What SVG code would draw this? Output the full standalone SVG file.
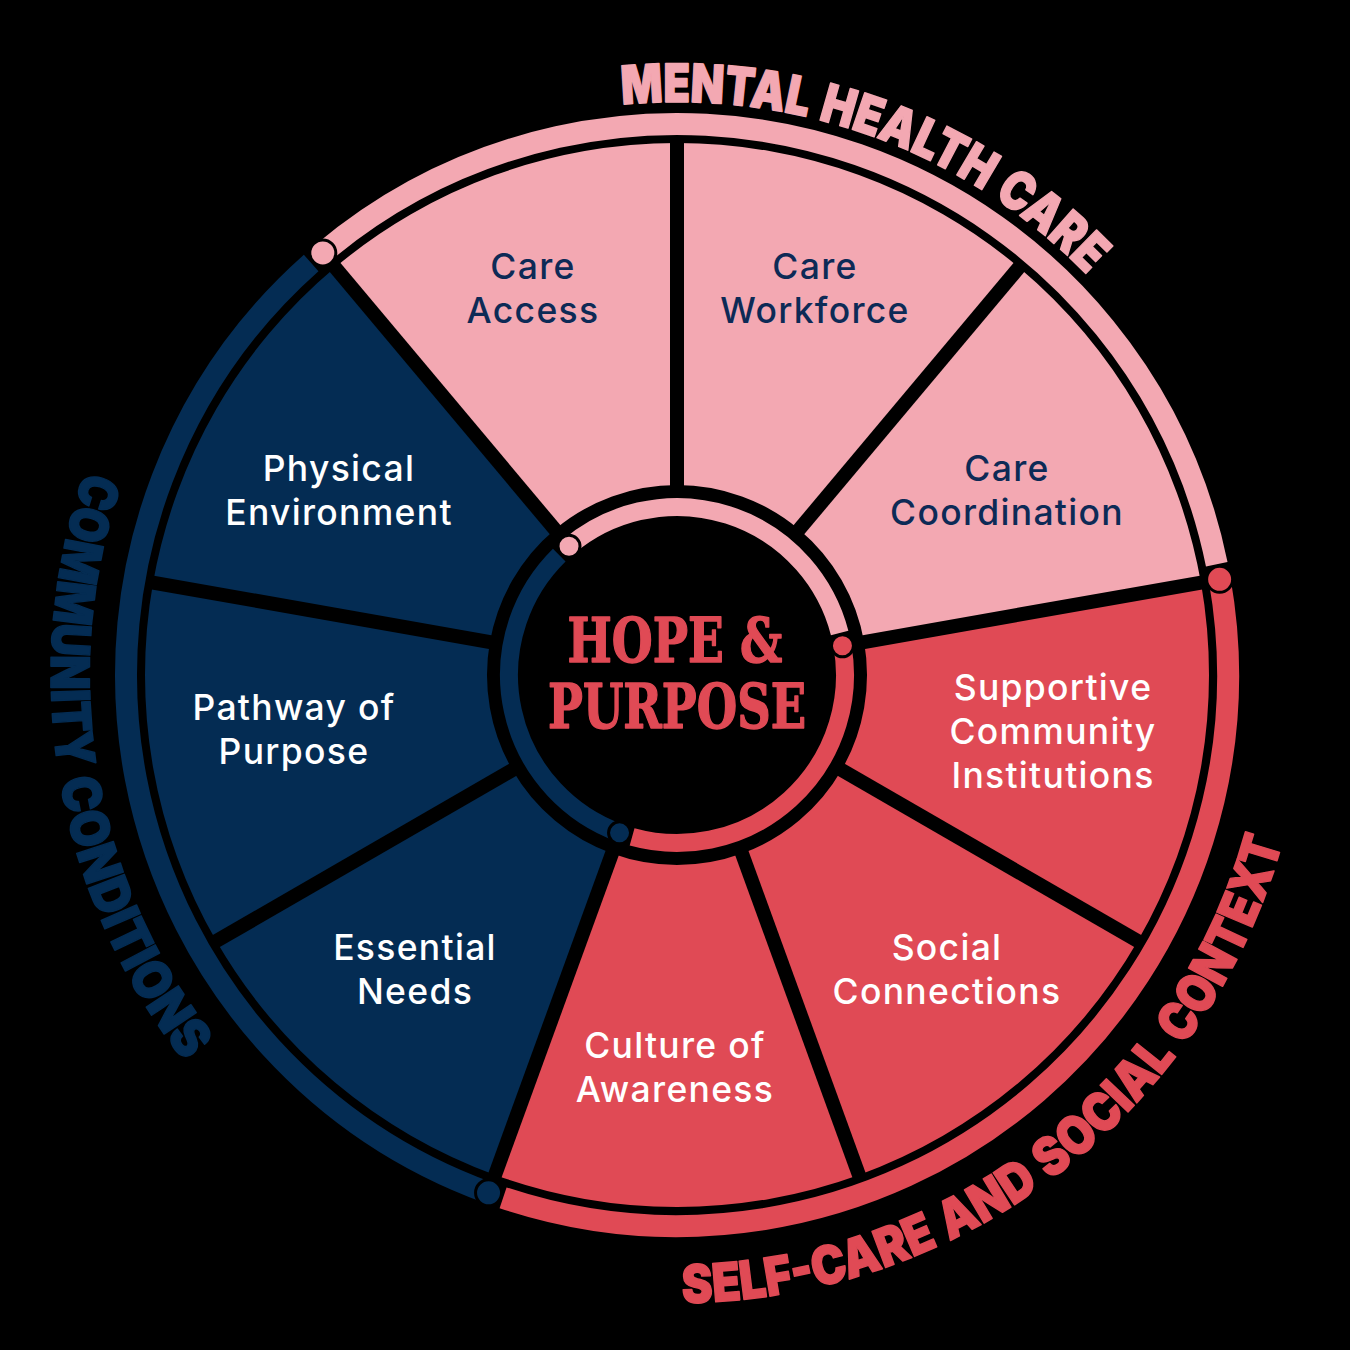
<svg xmlns="http://www.w3.org/2000/svg" xmlns:xlink="http://www.w3.org/1999/xlink" width="1350" height="1350" viewBox="0 0 1350 1350">
<style>
.pink{fill:#F3A8B2}
.red{fill:#E04A55}
.navy{fill:#042C53}
.lbl{font-family:Inter,"Noto Sans","DejaVu Sans",sans-serif;font-weight:500;font-size:35.5px;letter-spacing:1.3px;text-anchor:middle}
.dk{fill:#0D2A56}
.wt{fill:#FFFFFF}
.arct{font-family:Inter,"DejaVu Sans",sans-serif;font-weight:900;font-size:53px;stroke-width:1.5;stroke-linejoin:round}
.mh{fill:#F3A8B2;stroke:#F3A8B2}
.sc{fill:#E04A55;stroke:#E04A55}
.cc{fill:#042C53;stroke:#042C53}
.div{stroke:#000;stroke-width:14}
.band{fill:none;stroke-width:22}
.iband{fill:none;stroke-width:18}
.dot{stroke:#000;stroke-width:3}
.hope{font-family:"DejaVu Serif","Liberation Serif",serif;font-weight:bold;font-size:61px;fill:#E04A55;stroke:#E04A55;stroke-width:1.5;stroke-linejoin:round;text-anchor:middle}
</style>
<defs>
<path id="sector" d="M532 0 A532 532 0 0 1 407.54 341.96 L145.55 122.13 A190 190 0 0 0 190 0 Z"/>
<path id="p-mental" d="M-54.92 -570.36 A573 573 0 0 1 412.18 -398.04"/>
<path id="p-self" d="M5.48 627.98 A628 628 0 0 0 606.60 162.54"/>
<path id="p-comm" d="M-591.89 -203.81 A626 626 0 0 0 -489.91 389.69"/>
</defs>
<rect width="1350" height="1350" fill="#000"/>

<g id="care-access"><use href="#sector" class="pink" transform="translate(677 675) rotate(-130)"/><text class="lbl dk" x="533" y="279">Care</text><text class="lbl dk" x="533" y="323">Access</text></g>
<g id="care-workforce"><use href="#sector" class="pink" transform="translate(677 675) rotate(-90)"/><text class="lbl dk" x="815" y="279">Care</text><text class="lbl dk" x="815" y="323">Workforce</text></g>
<g id="care-coordination"><use href="#sector" class="pink" transform="translate(677 675) rotate(-50)"/><text class="lbl dk" x="1007" y="481">Care</text><text class="lbl dk" x="1007" y="525">Coordination</text></g>
<g id="supportive-community-institutions"><use href="#sector" class="red" transform="translate(677 675) rotate(-10)"/><text class="lbl wt" x="1053" y="700">Supportive</text><text class="lbl wt" x="1053" y="744">Community</text><text class="lbl wt" x="1053" y="788">Institutions</text></g>
<g id="social-connections"><use href="#sector" class="red" transform="translate(677 675) rotate(30)"/><text class="lbl wt" x="947" y="960">Social</text><text class="lbl wt" x="947" y="1004">Connections</text></g>
<g id="culture-of-awareness"><use href="#sector" class="red" transform="translate(677 675) rotate(70)"/><text class="lbl wt" x="675" y="1058">Culture of</text><text class="lbl wt" x="675" y="1102">Awareness</text></g>
<g id="essential-needs"><use href="#sector" class="navy" transform="translate(677 675) rotate(110)"/><text class="lbl wt" x="415" y="960">Essential</text><text class="lbl wt" x="415" y="1004">Needs</text></g>
<g id="pathway-of-purpose"><use href="#sector" class="navy" transform="translate(677 675) rotate(150)"/><text class="lbl wt" x="294" y="720">Pathway of</text><text class="lbl wt" x="294" y="764">Purpose</text></g>
<g id="physical-environment"><use href="#sector" class="navy" transform="translate(677 675) rotate(190)"/><text class="lbl wt" x="339" y="481">Physical</text><text class="lbl wt" x="339" y="525">Environment</text></g>

<g id="connectors" transform="translate(677 675)">
<g class="div">
<line x1="184" y1="0" x2="538" y2="0" transform="rotate(-130)"/>
<line x1="184" y1="0" x2="538" y2="0" transform="rotate(-90)"/>
<line x1="184" y1="0" x2="538" y2="0" transform="rotate(-50)"/>
<line x1="184" y1="0" x2="538" y2="0" transform="rotate(-10)"/>
<line x1="184" y1="0" x2="538" y2="0" transform="rotate(30)"/>
<line x1="184" y1="0" x2="538" y2="0" transform="rotate(70)"/>
<line x1="184" y1="0" x2="538" y2="0" transform="rotate(110)"/>
<line x1="184" y1="0" x2="538" y2="0" transform="rotate(150)"/>
<line x1="184" y1="0" x2="538" y2="0" transform="rotate(190)"/>
</g>
<path class="band" stroke="#F3A8B2" d="M-354.18 -422.09 A551 551 0 0 1 539.75 -110.79"/>
<path class="band" stroke="#E04A55" d="M542.63 -95.68 A551 551 0 0 1 -173.92 522.83"/>
<path class="band" stroke="#042C53" d="M-188.45 517.77 A551 551 0 0 1 -365.82 -412.04"/>
<circle class="dot pink" cx="-354.18" cy="-422.09" r="13"/>
<circle class="dot red" cx="542.63" cy="-95.68" r="13"/>
<circle class="dot navy" cx="-188.45" cy="517.77" r="13"/>
<path class="iband" stroke="#F3A8B2" d="M-107.99 -128.70 A168 168 0 0 1 162.65 -42.06"/>
<path class="iband" stroke="#E04A55" d="M165.45 -29.17 A168 168 0 0 1 -44.90 161.89"/>
<path class="iband" stroke="#042C53" d="M-57.46 157.87 A168 168 0 0 1 -117.75 -119.83"/>
<circle class="dot pink" cx="-107.99" cy="-128.70" r="11"/>
<circle class="dot red" cx="165.45" cy="-29.17" r="11"/>
<circle class="dot navy" cx="-57.46" cy="157.87" r="11"/>
</g>

<g id="arc-labels" transform="translate(677 675)">
<text class="arct mh"><textPath href="#p-mental" xlink:href="#p-mental" startOffset="0" textLength="186" lengthAdjust="spacingAndGlyphs">MENTAL</textPath></text>
<text class="arct mh"><textPath href="#p-mental" xlink:href="#p-mental" startOffset="197.5" textLength="181" lengthAdjust="spacingAndGlyphs">HEALTH</textPath></text>
<text class="arct mh"><textPath href="#p-mental" xlink:href="#p-mental" startOffset="389.7" textLength="122.3" lengthAdjust="spacingAndGlyphs">CARE</textPath></text>
<text class="arct sc"><textPath href="#p-self" xlink:href="#p-self" startOffset="0" textLength="264.4" lengthAdjust="spacingAndGlyphs">SELF-CARE</textPath></text>
<text class="arct sc"><textPath href="#p-self" xlink:href="#p-self" startOffset="276.3" textLength="105.8" lengthAdjust="spacingAndGlyphs">AND</textPath></text>
<text class="arct sc"><textPath href="#p-self" xlink:href="#p-self" startOffset="394.1" textLength="177.9" lengthAdjust="spacingAndGlyphs">SOCIAL</textPath></text>
<text class="arct sc"><textPath href="#p-self" xlink:href="#p-self" startOffset="584" textLength="228" lengthAdjust="spacingAndGlyphs">CONTEXT</textPath></text>
<text class="arct cc"><textPath href="#p-comm" xlink:href="#p-comm" startOffset="0" textLength="301.3" lengthAdjust="spacingAndGlyphs">COMMUNITY</textPath></text>
<text class="arct cc"><textPath href="#p-comm" xlink:href="#p-comm" startOffset="313.1" textLength="310.9" lengthAdjust="spacingAndGlyphs">CONDITIONS</textPath></text>
</g>

<g id="hope-purpose">
<text class="hope" x="675" y="662" textLength="215" lengthAdjust="spacingAndGlyphs">HOPE &amp;</text>
<text class="hope" x="677" y="728" textLength="258" lengthAdjust="spacingAndGlyphs">PURPOSE</text>
</g>
</svg>
